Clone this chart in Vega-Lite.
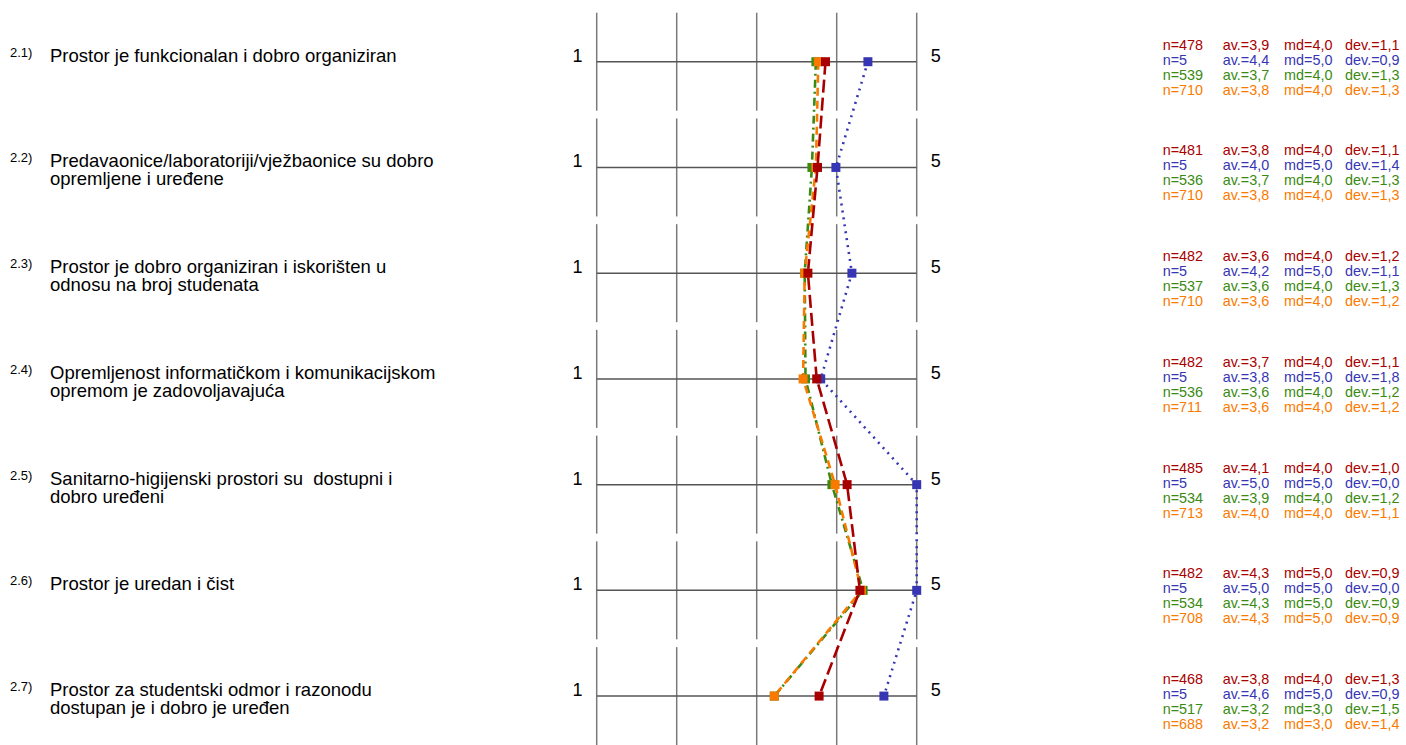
{
  "$schema": "https://vega.github.io/schema/vega-lite/v6.json",
  "width": 1406,
  "height": 745,
  "padding": 0,
  "autosize": {"type": "fit", "contains": "padding"},
  "background": "white",
  "config": {"view": {"stroke": null}, "font": "Liberation Sans", "text": {"fontSize": 14.4, "align": "left", "baseline": "middle"}},
  "datasets": {
    "items": [
      {"item": 1, "num": "2.1)", "label": "Prostor je funkcionalan i dobro organiziran", "ticks": [1, 2, 3, 4, 5]},
      {"item": 2, "num": "2.2)", "label": "Predavaonice/laboratoriji/vježbaonice su dobro\nopremljene i uređene", "ticks": [1, 2, 3, 4, 5]},
      {"item": 3, "num": "2.3)", "label": "Prostor je dobro organiziran i iskorišten u\nodnosu na broj studenata", "ticks": [1, 2, 3, 4, 5]},
      {"item": 4, "num": "2.4)", "label": "Opremljenost informatičkom i komunikacijskom\nopremom je zadovoljavajuća", "ticks": [1, 2, 3, 4, 5]},
      {"item": 5, "num": "2.5)", "label": "Sanitarno-higijenski prostori su \u00a0dostupni i\ndobro uređeni", "ticks": [1, 2, 3, 4, 5]},
      {"item": 6, "num": "2.6)", "label": "Prostor je uredan i čist", "ticks": [1, 2, 3, 4, 5]},
      {"item": 7, "num": "2.7)", "label": "Prostor za studentski odmor i razonodu\ndostupan je i dobro je uređen", "ticks": [1, 2, 3, 4, 5]}
    ],
    "rows": [
      {"item": 1, "g": 2, "v": 4.39, "n": 5, "av": 4.4, "md": 5.0, "dev": 0.9},
      {"item": 2, "g": 2, "v": 3.99, "n": 5, "av": 4.0, "md": 5.0, "dev": 1.4},
      {"item": 3, "g": 2, "v": 4.19, "n": 5, "av": 4.2, "md": 5.0, "dev": 1.1},
      {"item": 4, "g": 2, "v": 3.80, "n": 5, "av": 3.8, "md": 5.0, "dev": 1.8},
      {"item": 5, "g": 2, "v": 5.00, "n": 5, "av": 5.0, "md": 5.0, "dev": 0.0},
      {"item": 6, "g": 2, "v": 5.00, "n": 5, "av": 5.0, "md": 5.0, "dev": 0.0},
      {"item": 7, "g": 2, "v": 4.59, "n": 5, "av": 4.6, "md": 5.0, "dev": 0.9},
      {"item": 1, "g": 3, "v": 3.74, "n": 539, "av": 3.7, "md": 4.0, "dev": 1.3},
      {"item": 2, "g": 3, "v": 3.69, "n": 536, "av": 3.7, "md": 4.0, "dev": 1.3},
      {"item": 3, "g": 3, "v": 3.60, "n": 537, "av": 3.6, "md": 4.0, "dev": 1.3},
      {"item": 4, "g": 3, "v": 3.61, "n": 536, "av": 3.6, "md": 4.0, "dev": 1.2},
      {"item": 5, "g": 3, "v": 3.94, "n": 534, "av": 3.9, "md": 4.0, "dev": 1.2},
      {"item": 6, "g": 3, "v": 4.33, "n": 534, "av": 4.3, "md": 5.0, "dev": 0.9},
      {"item": 7, "g": 3, "v": 3.22, "n": 517, "av": 3.2, "md": 3.0, "dev": 1.5},
      {"item": 1, "g": 4, "v": 3.77, "n": 710, "av": 3.8, "md": 4.0, "dev": 1.3},
      {"item": 2, "g": 4, "v": 3.74, "n": 710, "av": 3.8, "md": 4.0, "dev": 1.3},
      {"item": 3, "g": 4, "v": 3.60, "n": 710, "av": 3.6, "md": 4.0, "dev": 1.2},
      {"item": 4, "g": 4, "v": 3.58, "n": 711, "av": 3.6, "md": 4.0, "dev": 1.2},
      {"item": 5, "g": 4, "v": 3.98, "n": 713, "av": 4.0, "md": 4.0, "dev": 1.1},
      {"item": 6, "g": 4, "v": 4.31, "n": 708, "av": 4.3, "md": 5.0, "dev": 0.9},
      {"item": 7, "g": 4, "v": 3.22, "n": 688, "av": 3.2, "md": 3.0, "dev": 1.4},
      {"item": 1, "g": 1, "v": 3.86, "n": 478, "av": 3.9, "md": 4.0, "dev": 1.1},
      {"item": 2, "g": 1, "v": 3.76, "n": 481, "av": 3.8, "md": 4.0, "dev": 1.1},
      {"item": 3, "g": 1, "v": 3.64, "n": 482, "av": 3.6, "md": 4.0, "dev": 1.2},
      {"item": 4, "g": 1, "v": 3.75, "n": 482, "av": 3.7, "md": 4.0, "dev": 1.1},
      {"item": 5, "g": 1, "v": 4.13, "n": 485, "av": 4.1, "md": 4.0, "dev": 1.0},
      {"item": 6, "g": 1, "v": 4.29, "n": 482, "av": 4.3, "md": 5.0, "dev": 0.9},
      {"item": 7, "g": 1, "v": 3.78, "n": 468, "av": 3.8, "md": 4.0, "dev": 1.3}
    ]
  },
  "layer": [
    {
      "data": {"name": "items"},
      "transform": [{"flatten": ["ticks"]}],
      "mark": {"type": "tick", "orient": "vertical", "size": 98, "thickness": 1.5, "color": "#7a7a7a", "opacity": 1},
      "encoding": {
        "x": {"field": "ticks", "type": "quantitative", "scale": {"domain": [-6.45875, 11.11625], "nice": false, "zero": false}, "axis": null},
        "y": {"field": "item", "type": "quantitative", "scale": {"domain": [0.41628, 7.39647], "reverse": true, "nice": false, "zero": false}, "axis": null}
      }
    },
    {
      "data": {"name": "items"},
      "mark": {"type": "rule", "color": "#555555", "strokeWidth": 1.5},
      "encoding": {
        "x": {"datum": 1, "type": "quantitative"},
        "x2": {"datum": 5},
        "y": {"field": "item", "type": "quantitative"}
      }
    },
    {
      "data": {"name": "items"},
      "mark": {"type": "text", "align": "right", "baseline": "alphabetic", "fontSize": 18, "dy": 0, "color": "#000000"},
      "encoding": {
        "x": {"datum": 0.8225, "type": "quantitative"},
        "y": {"field": "item", "type": "quantitative"},
        "text": {"value": "1"}
      }
    },
    {
      "data": {"name": "items"},
      "mark": {"type": "text", "align": "left", "baseline": "alphabetic", "fontSize": 18, "dy": 0, "color": "#000000"},
      "encoding": {
        "x": {"datum": 5.175, "type": "quantitative"},
        "y": {"field": "item", "type": "quantitative"},
        "text": {"value": "5"}
      }
    },
    {
      "data": {"name": "items"},
      "mark": {"type": "text", "align": "left", "baseline": "alphabetic", "fontSize": 13, "dy": -5, "color": "#000000"},
      "encoding": {
        "x": {"datum": -6.33375, "type": "quantitative"},
        "y": {"field": "item", "type": "quantitative"},
        "text": {"field": "num"}
      }
    },
    {
      "data": {"name": "items"},
      "mark": {"type": "text", "align": "left", "baseline": "alphabetic", "fontSize": 18.5, "dy": 0, "lineBreak": "\n", "lineHeight": 18, "color": "#000000"},
      "encoding": {
        "x": {"datum": -5.83375, "type": "quantitative"},
        "y": {"field": "item", "type": "quantitative"},
        "text": {"field": "label"}
      }
    },
    {
      "data": {"name": "rows"},
      "mark": {"type": "line", "strokeWidth": 2.6},
      "encoding": {
        "x": {"field": "v", "type": "quantitative"},
        "y": {"field": "item", "type": "quantitative"},
        "order": {"field": "item", "type": "quantitative"},
        "color": {"field": "g", "type": "nominal", "scale": {"domain": [1, 2, 3, 4], "range": ["#a80000", "#3636b4", "#3a8a12", "#fa7a00"]}, "legend": null},
        "strokeDash": {"field": "g", "type": "nominal", "scale": {"domain": [1, 2, 3, 4], "range": [[13, 5], [2, 5], [8, 4, 2, 4], [8, 5]]}, "legend": null}
      }
    },
    {
      "data": {"name": "rows"},
      "mark": {"type": "point", "shape": "square", "filled": true, "size": 81, "opacity": 1},
      "encoding": {
        "x": {"field": "v", "type": "quantitative"},
        "y": {"field": "item", "type": "quantitative"},
        "color": {"field": "g", "type": "nominal", "legend": null}
      }
    },
    {
      "data": {"name": "rows"},
      "transform": [
        {"calculate": "'n=' + datum.n", "as": "tn"},
        {"calculate": "'av.=' + replace(format(datum.av, '.1f'), '.', ',')", "as": "ta"},
        {"calculate": "'md=' + replace(format(datum.md, '.1f'), '.', ',')", "as": "tm"},
        {"calculate": "'dev.=' + replace(format(datum.dev, '.1f'), '.', ',')", "as": "td"}
      ],
      "encoding": {
        "y": {"field": "item", "type": "quantitative"},
        "color": {"field": "g", "type": "nominal", "legend": null}
      },
      "layer": [
        {"transform": [{"filter": "datum.g == 1"}], "mark": {"type": "text", "dy": -16}, "encoding": {"x": {"datum": 8.075, "type": "quantitative"}, "text": {"field": "tn"}}},
        {"transform": [{"filter": "datum.g == 1"}], "mark": {"type": "text", "dy": -16}, "encoding": {"x": {"datum": 8.825, "type": "quantitative"}, "text": {"field": "ta"}}},
        {"transform": [{"filter": "datum.g == 1"}], "mark": {"type": "text", "dy": -16}, "encoding": {"x": {"datum": 9.59125, "type": "quantitative"}, "text": {"field": "tm"}}},
        {"transform": [{"filter": "datum.g == 1"}], "mark": {"type": "text", "dy": -16}, "encoding": {"x": {"datum": 10.35375, "type": "quantitative"}, "text": {"field": "td"}}},
        {"transform": [{"filter": "datum.g == 2"}], "mark": {"type": "text", "dy": -1}, "encoding": {"x": {"datum": 8.075, "type": "quantitative"}, "text": {"field": "tn"}}},
        {"transform": [{"filter": "datum.g == 2"}], "mark": {"type": "text", "dy": -1}, "encoding": {"x": {"datum": 8.825, "type": "quantitative"}, "text": {"field": "ta"}}},
        {"transform": [{"filter": "datum.g == 2"}], "mark": {"type": "text", "dy": -1}, "encoding": {"x": {"datum": 9.59125, "type": "quantitative"}, "text": {"field": "tm"}}},
        {"transform": [{"filter": "datum.g == 2"}], "mark": {"type": "text", "dy": -1}, "encoding": {"x": {"datum": 10.35375, "type": "quantitative"}, "text": {"field": "td"}}},
        {"transform": [{"filter": "datum.g == 3"}], "mark": {"type": "text", "dy": 14}, "encoding": {"x": {"datum": 8.075, "type": "quantitative"}, "text": {"field": "tn"}}},
        {"transform": [{"filter": "datum.g == 3"}], "mark": {"type": "text", "dy": 14}, "encoding": {"x": {"datum": 8.825, "type": "quantitative"}, "text": {"field": "ta"}}},
        {"transform": [{"filter": "datum.g == 3"}], "mark": {"type": "text", "dy": 14}, "encoding": {"x": {"datum": 9.59125, "type": "quantitative"}, "text": {"field": "tm"}}},
        {"transform": [{"filter": "datum.g == 3"}], "mark": {"type": "text", "dy": 14}, "encoding": {"x": {"datum": 10.35375, "type": "quantitative"}, "text": {"field": "td"}}},
        {"transform": [{"filter": "datum.g == 4"}], "mark": {"type": "text", "dy": 29}, "encoding": {"x": {"datum": 8.075, "type": "quantitative"}, "text": {"field": "tn"}}},
        {"transform": [{"filter": "datum.g == 4"}], "mark": {"type": "text", "dy": 29}, "encoding": {"x": {"datum": 8.825, "type": "quantitative"}, "text": {"field": "ta"}}},
        {"transform": [{"filter": "datum.g == 4"}], "mark": {"type": "text", "dy": 29}, "encoding": {"x": {"datum": 9.59125, "type": "quantitative"}, "text": {"field": "tm"}}},
        {"transform": [{"filter": "datum.g == 4"}], "mark": {"type": "text", "dy": 29}, "encoding": {"x": {"datum": 10.35375, "type": "quantitative"}, "text": {"field": "td"}}}
      ]
    }
  ]
}
